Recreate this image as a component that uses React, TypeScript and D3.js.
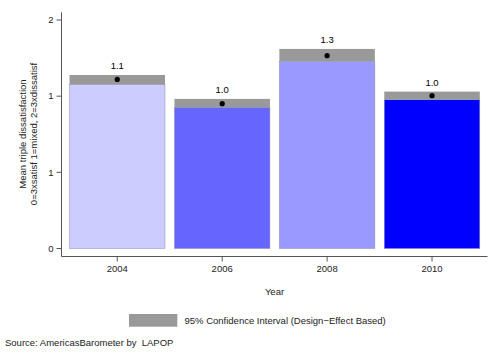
import * as d3 from "d3";

const years = ["2004", "2006", "2008", "2010"];
const means = [1.11, 0.951, 1.266, 1.003];
const ciLow = [1.076, 0.927, 1.228, 0.977];
const ciHigh = [1.139, 0.982, 1.31, 1.03];
const yTicks = [0, 0.5, 1, 1.5];

const barColors = ["#ccccff", "#6666ff", "#9999ff", "#0000ff"];
const CI_COLOR = "#999999";
const FONT = "'Liberation Sans', Arial, sans-serif";

const WIDTH = 500;
const HEIGHT = 364;

export default function App() {
  const x = d3
    .scaleBand<string>()
    .domain(years)
    .range([64.8, 484.5])
    .paddingInner(0.09)
    .paddingOuter(0.045);

  const y = d3.scaleLinear().domain([0, 1.5]).range([248.5, 20]);
  const fmtTick = d3.format(".0f");
  const fmtVal = d3.format(".1f");

  const axisX = 61.5;
  const axisY = 256.5;

  return (
    <svg
      width={WIDTH}
      height={HEIGHT}
      style={{ position: "absolute", left: 0, top: 0, background: "#fff" }}
      fontFamily={FONT}
    >
      <rect width={WIDTH} height={HEIGHT} fill="#fff" />

      {years.map((yr, i) => {
        const bx = x(yr)!;
        const bw = x.bandwidth();
        return (
          <g key={yr}>
            <rect
              x={bx}
              y={y(ciLow[i])}
              width={bw}
              height={y(0) - y(ciLow[i])}
              fill={barColors[i]}
              stroke="#8c8cb0"
              strokeWidth={0.5}
            />
            <rect
              x={bx}
              y={y(ciHigh[i])}
              width={bw}
              height={y(ciLow[i]) - y(ciHigh[i])}
              fill={CI_COLOR}
            />
            <circle cx={bx + bw / 2} cy={y(means[i])} r={2.6} fill="#000" />
            <text
              x={bx + bw / 2}
              y={y(ciHigh[i]) - 5.5}
              textAnchor="middle"
              fontSize={9.5}
              fill="#000"
            >
              {fmtVal(means[i])}
            </text>
          </g>
        );
      })}

      {/* y axis */}
      <line x1={axisX} x2={axisX} y1={12.3} y2={axisY} stroke="#555" strokeWidth={1} />
      {yTicks.map((t) => (
        <g key={t}>
          <line x1={axisX - 5} x2={axisX} y1={y(t)} y2={y(t)} stroke="#555" />
          <text
            x={axisX - 8}
            y={y(t)}
            dy="0.35em"
            textAnchor="end"
            fontSize={9.5}
            fill="#222"
          >
            {fmtTick(t)}
          </text>
        </g>
      ))}
      <g transform={`translate(26, 134) rotate(-90)`}>
        <text textAnchor="middle" fontSize={9.5} fill="#222" y={0}>
          Mean triple dissatisfaction
        </text>
        <text textAnchor="middle" fontSize={9.5} fill="#222" y={11}>
          0=3xsatisf 1=mixed, 2=3xdissatisf
        </text>
      </g>

      {/* x axis */}
      <line x1={axisX} x2={487.5} y1={axisY} y2={axisY} stroke="#555" strokeWidth={1} />
      {years.map((yr) => {
        const cx = x(yr)! + x.bandwidth() / 2;
        return (
          <g key={yr}>
            <line x1={cx} x2={cx} y1={axisY} y2={axisY + 5} stroke="#555" />
            <text x={cx} y={272} textAnchor="middle" fontSize={9.5} fill="#222">
              {yr}
            </text>
          </g>
        );
      })}
      <text x={274.5} y={294.5} textAnchor="middle" fontSize={9.5} fill="#222">
        Year
      </text>

      {/* legend */}
      <rect x={129} y={314} width={48.3} height={12.7} fill={CI_COLOR} />
      <text x={184.5} y={324} fontSize={9.5} fill="#222">
        95% Confidence Interval (Design−Effect Based)
      </text>

      <text x={5} y={346} fontSize={9.5} fill="#222">
        Source: AmericasBarometer by {"\u00a0"}LAPOP
      </text>
    </svg>
  );
}
